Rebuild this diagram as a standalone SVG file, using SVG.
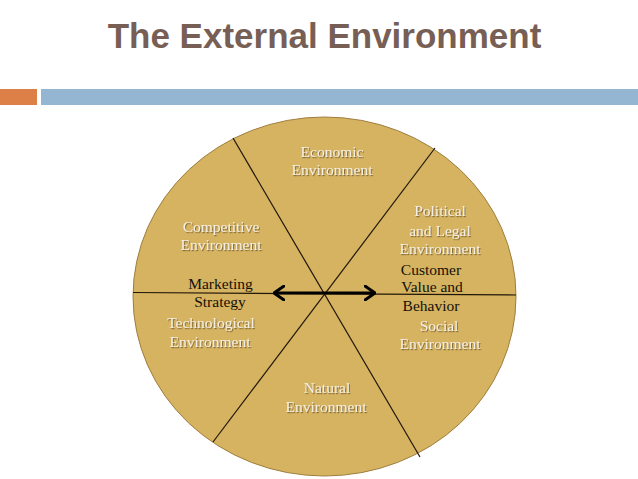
<svg xmlns="http://www.w3.org/2000/svg" width="638" height="479" viewBox="0 0 638 479">
  <defs>
    <style>
      .title { font-family: "Liberation Sans", Arial, sans-serif; font-weight: bold; font-size: 35px; fill: #775F55; }
      .lbl { font-family: "Liberation Serif", "Times New Roman", serif; font-size: 15.5px; fill: #F4EFE2; text-anchor: middle; filter: url(#sh); }
      .dark { font-family: "Liberation Serif", "Times New Roman", serif; font-size: 15.5px; fill: #141008; text-anchor: middle; }
      .div { stroke: #20160a; stroke-width: 1.2; fill: none; }
    </style>
    <filter id="sh" x="-10%" y="-20%" width="120%" height="150%">
      <feDropShadow dx="1" dy="1.2" stdDeviation="0.6" flood-color="#6b5428" flood-opacity="0.75"/>
    </filter>
    <marker id="head" viewBox="0 0 12 16" refX="11" refY="8" markerWidth="12" markerHeight="16" markerUnits="userSpaceOnUse" orient="auto-start-reverse">
      <polyline points="1,1 11,8 1,15" fill="none" stroke="#000" stroke-width="3" stroke-linecap="round" stroke-linejoin="round"/>
    </marker>
  </defs>
  <rect width="638" height="479" fill="#ffffff"/>
  <g id="title">
    <text class="title" x="324.5" y="48" text-anchor="middle">The External Environment</text>
  </g>
  <g id="header-bar">
    <rect x="0" y="89" width="37" height="16" fill="#DD8047"/>
    <rect x="41" y="89" width="597" height="16" fill="#94B6D2"/>
  </g>
  <g id="wheel">
    <ellipse cx="324.5" cy="296.5" rx="191.5" ry="179.5" fill="#D6B361" stroke="#9E7E3E" stroke-width="1"/>
  </g>
  <g id="connectors">
    <line class="div" x1="233" y1="138" x2="420" y2="457"/>
    <line class="div" x1="435" y1="148" x2="213" y2="442"/>
    <line class="div" x1="133" y1="292.5" x2="516" y2="295"/>
    <line x1="274" y1="293" x2="375" y2="293" stroke="#000" stroke-width="3" marker-start="url(#head)" marker-end="url(#head)"/>
  </g>
  <g id="economic">
    <text class="lbl" x="332" y="157">Economic</text>
    <text class="lbl" x="332" y="175">Environment</text>
  </g>
  <g id="competitive">
    <text class="lbl" x="221" y="232">Competitive</text>
    <text class="lbl" x="221" y="250">Environment</text>
  </g>
  <g id="political">
    <text class="lbl" x="440" y="216">Political</text>
    <text class="lbl" x="440" y="236">and Legal</text>
    <text class="lbl" x="440" y="254">Environment</text>
  </g>
  <g id="customer">
    <text class="dark" x="431" y="275">Customer</text>
    <text class="dark" x="432" y="292">Value and</text>
    <text class="dark" x="431" y="311">Behavior</text>
  </g>
  <g id="marketing">
    <text class="dark" x="220.5" y="289">Marketing</text>
    <text class="dark" x="220" y="307">Strategy</text>
  </g>
  <g id="technological">
    <text class="lbl" x="211" y="328">Technological</text>
    <text class="lbl" x="210" y="347">Environment</text>
  </g>
  <g id="social">
    <text class="lbl" x="439" y="331">Social</text>
    <text class="lbl" x="440" y="349">Environment</text>
  </g>
  <g id="natural">
    <text class="lbl" x="327" y="393">Natural</text>
    <text class="lbl" x="326" y="412">Environment</text>
  </g>
</svg>
